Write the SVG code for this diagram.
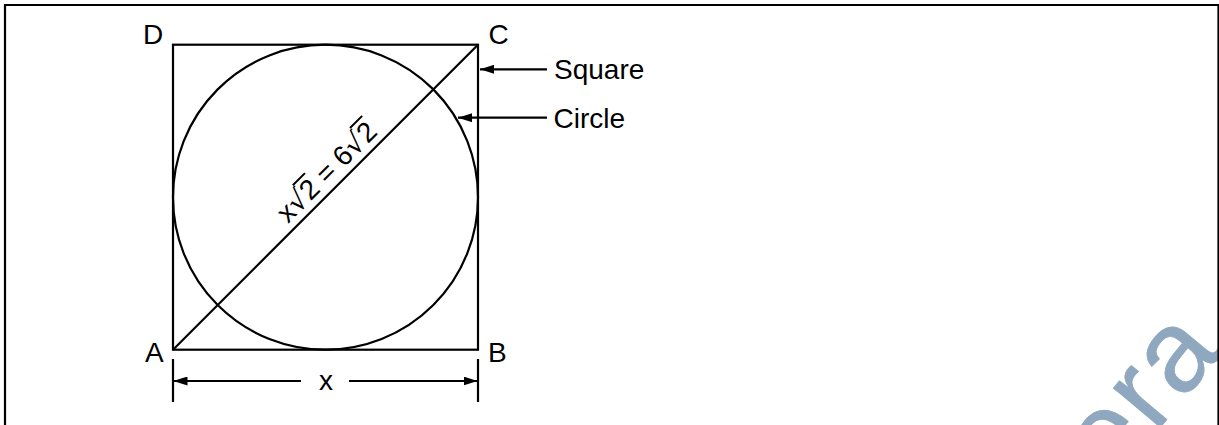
<svg xmlns="http://www.w3.org/2000/svg" width="1219" height="425" viewBox="0 0 1219 425">
<defs>
<style>
.ln{fill:none;stroke:#000;stroke-width:2.2}
.bar{fill:none;stroke:#000;stroke-width:2}
.t{font-family:"Liberation Sans",Arial,sans-serif;font-size:28px;fill:#000}
.rad{font-family:"DejaVu Sans",sans-serif}
.wm{font-family:"Liberation Sans",Arial,sans-serif;font-size:116px;fill:#8fa8bf;stroke:#8fa8bf;stroke-width:0.8;stroke-linejoin:round;letter-spacing:3px}
</style>
<marker id="ah" viewBox="0 0 14 9" refX="14" refY="4.5" markerWidth="14" markerHeight="9" orient="auto" markerUnits="userSpaceOnUse">
<path d="M0,0 L14,4.5 L0,9 z" fill="#000"/>
</marker>
</defs>
<rect width="1219" height="425" fill="#fff"/>
<g id="watermark">
<text class="wm" transform="translate(1155,434) rotate(-50)" x="-67" y="0">era</text>
</g>
<path id="frame" class="ln" d="M5,430 V5 H1218.5 V430"/>
<g id="square">
<rect class="ln" x="173" y="44.7" width="305" height="305"/>
<text class="t" x="143" y="44.3">D</text>
<text class="t" x="488.6" y="44.3">C</text>
<text class="t" x="145" y="361.7">A</text>
<text class="t" x="488" y="361.7">B</text>
</g>
<g id="circle">
<circle class="ln" cx="325.5" cy="197.2" r="152.5"/>
</g>
<g id="diagonal">
<line class="ln" x1="173" y1="349.7" x2="478" y2="44.7"/>
<g transform="translate(288,224) rotate(-45)">
<text class="t" x="0" y="0">x<tspan class="rad">√</tspan>2 = 6<tspan class="rad">√</tspan>2</text>
<path class="bar" d="M30.8,-24 H48 M111.7,-24 H128.9"/>
</g>
</g>
<g id="label-square">
<text class="t" x="554" y="79.3">Square</text>
</g>
<g id="label-circle">
<text class="t" x="553.6" y="128">Circle</text>
</g>
<g id="connectors">
<path class="ln" d="M547,69.3 H480" marker-end="url(#ah)"/>
<path class="ln" d="M547,117.7 H458" marker-end="url(#ah)"/>
<path class="ln" d="M173,359 V402 M478,359 V402"/>
<path class="ln" d="M301,381 H173.5" marker-end="url(#ah)"/>
<path class="ln" d="M349,381 H477.5" marker-end="url(#ah)"/>
</g>
<g id="dimension-label">
<text class="t" x="326" y="390" text-anchor="middle">x</text>
</g>
</svg>
